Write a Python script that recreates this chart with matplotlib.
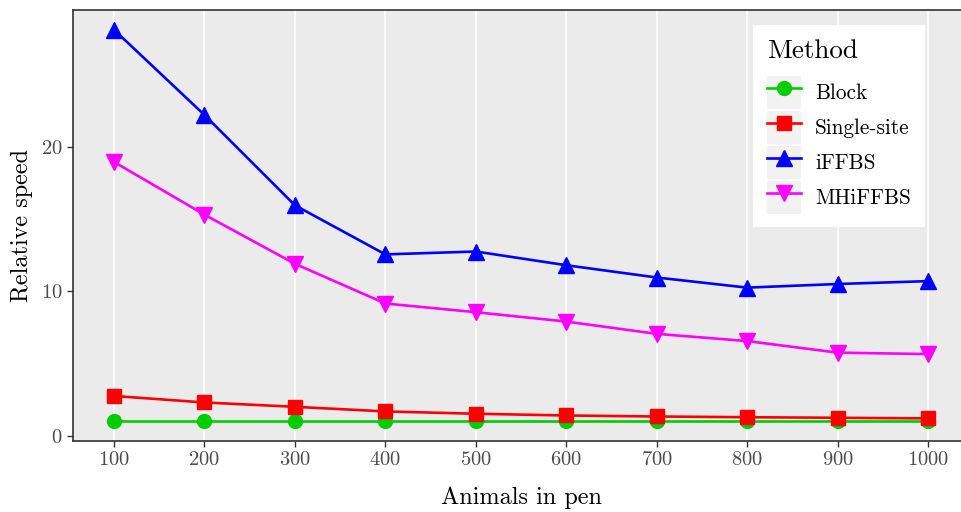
import matplotlib.pyplot as plt
from matplotlib.legend_handler import HandlerLine2D
from matplotlib.patches import Rectangle

plt.rcParams["font.family"] = ["cmr10", "DejaVu Serif"]
plt.rcParams["axes.formatter.use_mathtext"] = True

animals = [100, 200, 300, 400, 500, 600, 700, 800, 900, 1000]
block = [1, 1, 1, 1, 1, 1, 1, 1, 1, 1]
single_site = [2.75, 2.3, 2.0, 1.68, 1.52, 1.4, 1.33, 1.28, 1.24, 1.2]
iffbs = [28.1, 22.2, 15.95, 12.55, 12.75, 11.8, 10.95, 10.25, 10.5, 10.7]
mhiffbs = [18.95, 15.3, 11.9, 9.15, 8.55, 7.9, 7.05, 6.55, 5.75, 5.65]

methods = ["Block", "Single-site", "iFFBS", "MHiFFBS"]
series = [block, single_site, iffbs, mhiffbs]
colors = ["#00CD00", "#FF0000", "#0000FF", "#FF00FF"]
markers = ["o", "s", "^", "v"]
msizes = [10, 9.5, 12, 12]


class KeyHandler(HandlerLine2D):
    # ggplot-style legend key: grey square behind the line
    def create_artists(self, legend, orig_handle, xdescent, ydescent,
                       width, height, fontsize, trans):
        bg = Rectangle((-xdescent, -ydescent - 1), width, height + 2,
                       facecolor="#F2F2F2", edgecolor="none", transform=trans)
        arts = super().create_artists(legend, orig_handle, xdescent, ydescent,
                                      width, height, fontsize, trans)
        return [bg] + list(arts)


fig = plt.figure(figsize=(9.62, 5.12), dpi=100)
ax = fig.add_axes([0.0762, 0.139, 0.9308, 0.841])
ax.set_facecolor("#EBEBEB")

for name, vals, c, m, ms in zip(methods, series, colors, markers, msizes):
    ax.plot(animals, vals, color=c, marker=m, markersize=ms, linewidth=1.9,
            label=name)

ax.set_xlim(55, 1045)
ax.set_ylim(-0.355, 29.45)
ax.set_xticks(animals)
ax.set_yticks([0, 10, 20])
ax.grid(axis="x", color="white", linewidth=1.1)
ax.grid(axis="y", visible=False)
ax.set_axisbelow(True)
for s in ax.spines.values():
    s.set_color("#333333")
    s.set_linewidth(1.2)
ax.tick_params(axis="both", colors="#333333", labelcolor="#4D4D4D",
               labelsize=14.8, length=4, width=1.0)

ax.set_xlabel("Animals in pen", fontsize=17.5, labelpad=12.5)
ax.set_ylabel("Relative speed", fontsize=17.5, labelpad=6)

leg = ax.legend(title="Method", loc="upper right",
                bbox_to_anchor=(0.951, 0.965), fontsize=15.3,
                title_fontsize=19.5, frameon=True, fancybox=False,
                handler_map={plt.Line2D: KeyHandler()},
                handlelength=1.6, handleheight=1.85, labelspacing=0.2,
                handletextpad=0.66, borderpad=0.66, borderaxespad=0,
                alignment="left")
leg._legend_box.sep = 10
leg.get_frame().set_facecolor("white")
leg.get_frame().set_edgecolor("none")
leg.get_frame().set_alpha(1)

fig.savefig("out.png", dpi=100)
